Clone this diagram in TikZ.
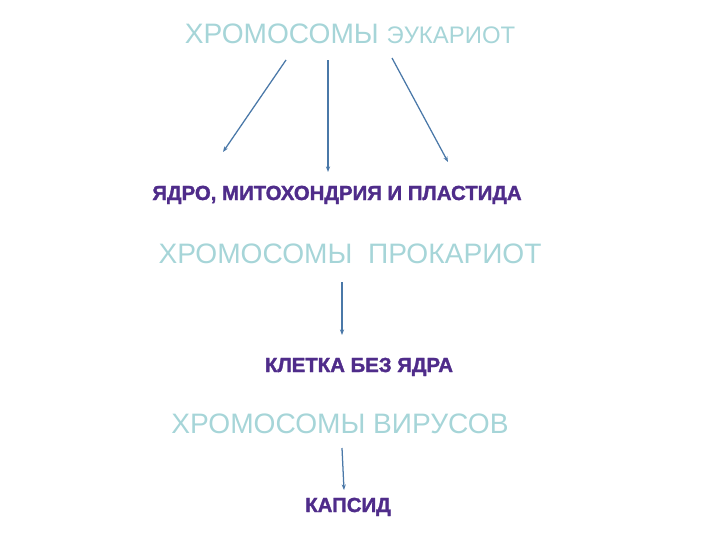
\documentclass[tikz,border=0pt]{standalone}
\usepackage{fontspec}
\setmainfont{Liberation Sans}
\newfontfamily\heavysans{Liberation Sans Bold}[FakeBold=1.6]
\usepackage{xcolor}
\usetikzlibrary{arrows.meta, positioning}

\definecolor{chromteal}{HTML}{A6D5D8}
\definecolor{partpurple}{HTML}{4F2C8A}
\definecolor{arrowblue}{HTML}{4A78A8}

\tikzset{
    chrom/.style={anchor=base, text=chromteal, inner sep=0pt, font=\fontsize{20}{24}\selectfont},
    part/.style={anchor=base, text=partpurple, inner sep=0pt, font=\heavysans\fontsize{14.5}{17}\selectfont},
    arr/.style={draw=arrowblue, line width=0.9pt, -{Stealth[length=4pt,width=3pt]}}
}

\begin{document}
\begin{tikzpicture}[x=0.025cm, y=-0.025cm]
    \useasboundingbox (0,0) rectangle (720,540);

        % Eukaryotes
        \node[chrom] (euk) at (350,43) {ХРОМОСОМЫ {\fontsize{17}{20}\selectfont ЭУКАРИОТ}};
        \node[part] (nucl) at (337,200) {ЯДРО, МИТОХОНДРИЯ И ПЛАСТИДА};

        \coordinate (eukl) at (286,60);
        \coordinate (eukm) at (328,60);
        \coordinate (eukr) at (392,58);
        \coordinate (nucll) at (223,152);
        \coordinate (nuclm) at (328,172);
        \coordinate (nuclr) at (448,162);
        \draw[arr] (eukl) -- (nucll);
        \draw[arr] (eukm) -- (nuclm);
        \draw[arr] (eukr) -- (nuclr);

        % Prokaryotes
        \node[chrom] (prok) at (350,263) {ХРОМОСОМЫ\ \ ПРОКАРИОТ};
        \node[part] (cell) at (359,372) {КЛЕТКА БЕЗ ЯДРА};
        \coordinate (prokm) at (342,282);
        \coordinate (cellm) at (342,335);
        \draw[arr] (prokm) -- (cellm);

        % Viruses
        \node[chrom] (vir) at (340,433) {ХРОМОСОМЫ ВИРУСОВ};
        \node[part] (caps) at (348,512) {КАПСИД};
        \coordinate (virm) at (342,448);
        \coordinate (capsm) at (344,490);
        \draw[arr] (virm) -- (capsm);
\end{tikzpicture}
\end{document}
